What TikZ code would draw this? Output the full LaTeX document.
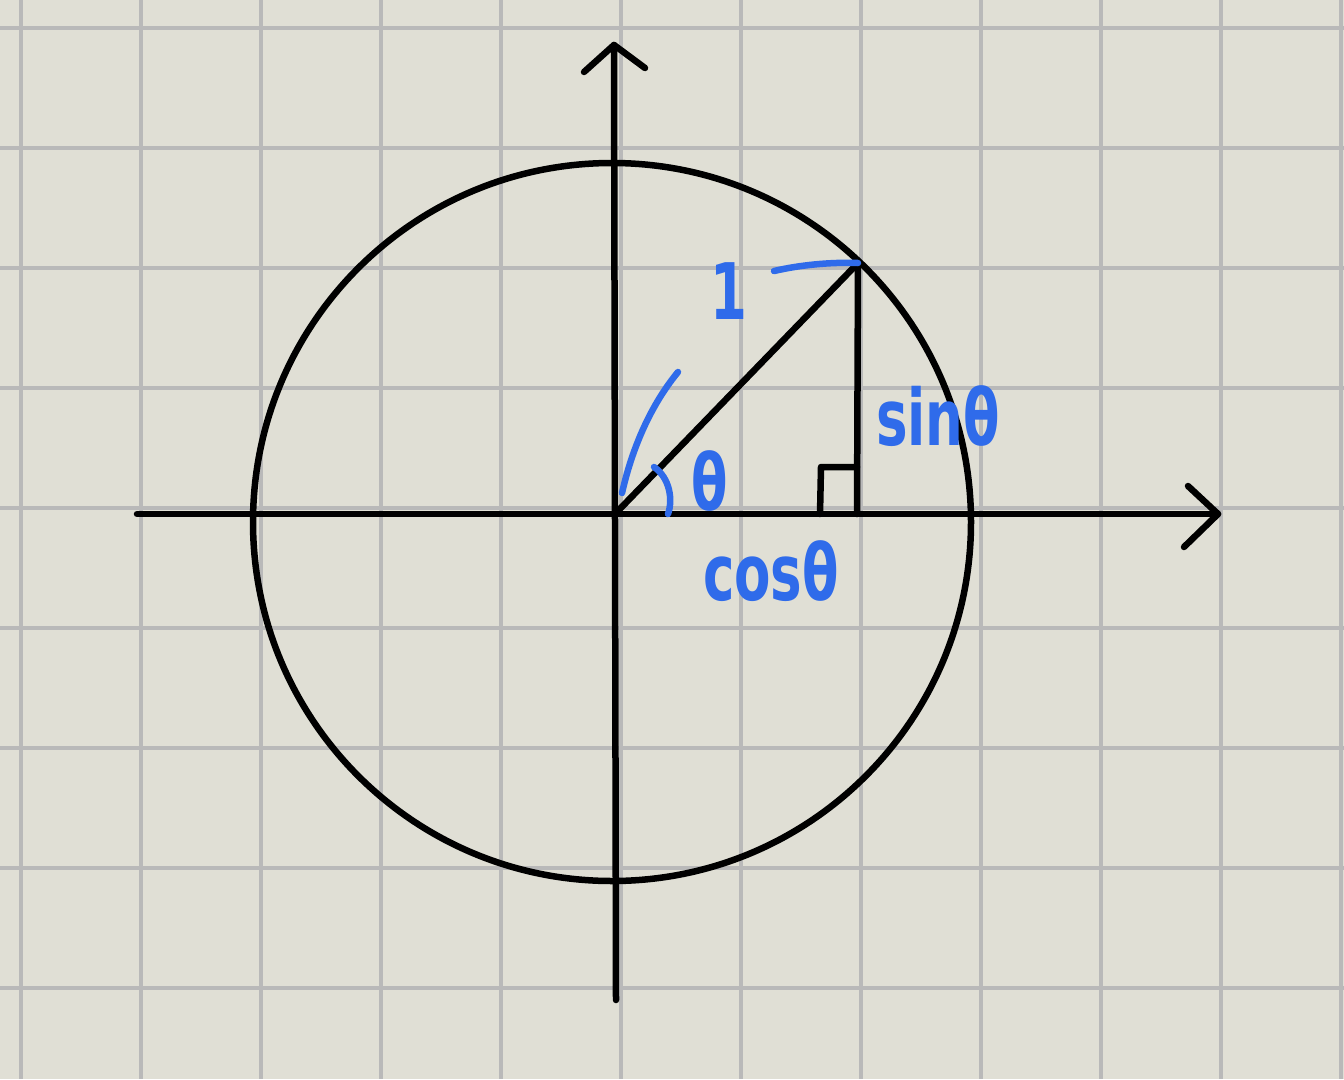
\documentclass[tikz,border=0pt]{standalone}
\usepackage{fontspec}
\setmainfont{DejaVu Sans}
\begin{document}
\begin{tikzpicture}[x=1pt,y=-1pt,
  gridline/.style={line width=4pt,draw=gridgray},
  ink/.style={line width=6.5pt,draw=black,line cap=round,line join=round},
  blueink/.style={line width=6.5pt,draw=penblue,line cap=round,line join=round},
  bluetext/.style={text=penblue,inner sep=0pt,font=\fontsize{78}{78}\selectfont\bfseries,xscale=0.68}]
\definecolor{paper}{HTML}{E0DFD5}
\definecolor{gridgray}{HTML}{B9B9B9}
\definecolor{penblue}{HTML}{2F6BEA}
\fill[paper] (0,0) rectangle (1344,1079);
\useasboundingbox (0,0) rectangle (1344,1079);
% grid
\foreach \gx in {21,141,...,1341} \draw[gridline] (\gx,0) -- (\gx,1079);
\foreach \gy in {28,148,...,988} \draw[gridline] (0,\gy) -- (1344,\gy);
% key points
\coordinate (O) at (615,514);
\coordinate (P) at (858,263);
\coordinate (F) at (857,514);
\coordinate (C) at (612,522);
\coordinate (xl) at (137,514);
\coordinate (xr) at (1218,514);
\coordinate (xa1) at (1188,486);
\coordinate (xa2) at (1184,547);
\coordinate (yb) at (616,1000);
\coordinate (yt) at (614,45);
\coordinate (ya1) at (584,72);
\coordinate (ya2) at (645,68);
\coordinate (ra) at (820,514);
\coordinate (rb) at (821,467);
\coordinate (rc) at (857,467);
% circle
\draw[ink] (C) circle[radius=359pt];
% axes
\draw[ink] (xl) -- (xr);
\draw[ink] (xa1) -- (xr) -- (xa2);
\draw[ink] (yb) -- (yt);
\draw[ink] (ya1) -- (yt) -- (ya2);
% triangle
\draw[ink] (O) -- (P);
\draw[ink] (P) -- (F);
\draw[ink] (ra) -- (rb) -- (rc);
% blue strokes
\coordinate (b1s) at (774,271);
\coordinate (a1s) at (622,493);
\coordinate (a1e) at (678,372);
\coordinate (a2s) at (654,467);
\coordinate (a2e) at (668,514);
\draw[blueink] (b1s) .. controls (800,265) and (830,262) .. (P);
\draw[blueink] (a1s) .. controls (634,440) and (655,400) .. (a1e);
\draw[blueink] (a2s) .. controls (670,478) and (673,500) .. (a2e);
% labels
\node[bluetext] (one) at (729,291) {1};
\node[bluetext] (theta) at (710,481) {θ};
\node[bluetext] (sin) at (938,416) {sinθ};
\node[bluetext] (cos) at (771,571) {cosθ};
\end{tikzpicture}
\end{document}
